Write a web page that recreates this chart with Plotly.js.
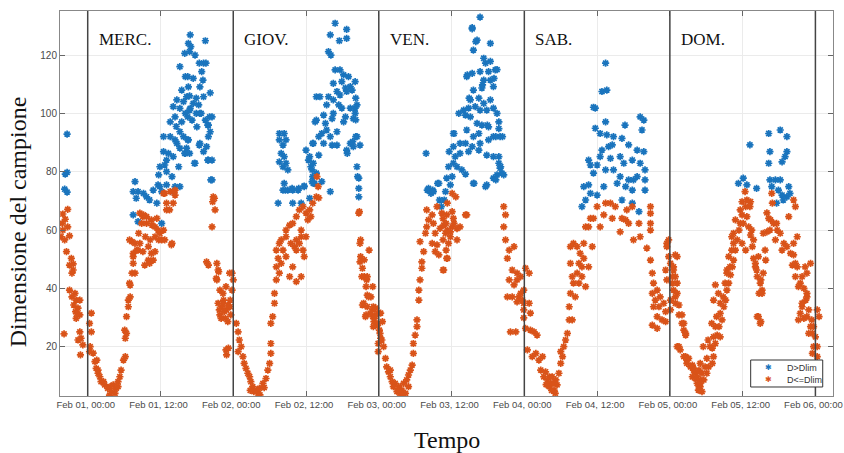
<!DOCTYPE html>
<html><head><meta charset="utf-8">
<script src="https://cdn.plot.ly/plotly-3.0.1.min.js"></script>
<style>html,body{margin:0;padding:0;background:#fff}#chart{width:844px;height:453px}</style>
</head><body><div id="chart"></div>
<script>
// hours relative to Feb 01 00:00, value
const bluePre = [[-3.4,92.9],[-3.4,79.8],[-3.7,79.2],[-3.8,74],[-3.4,73]];
const orangePre = [[-3.3,67.1],[-4.1,65.5],[-3.7,63.7],[-4.2,62.3],[-3.3,61.1],[-4.1,60],[-4.4,57.7],[-3.0,58],[-3.8,56.6],[-3.5,52.6],[-2.7,50.3],[-2.4,48.4],[-3.0,48],[-2.4,46.3],[-2.6,45.2],[-3.0,39.4],[-2.1,38.3],[-2.6,37.1],[-1.9,36],[-2.3,34.3],[-1.6,33.2],[-2.0,32],[-1.3,30.9],[-1.9,29.7],[-3.9,24.4],[-1.3,25.1],[-1.1,22.9],[-0.8,20.6],[-1.2,17.2],[-1.6,22.3],[-1.3,36],[-1.8,31.4]];

const blueWed = [[16.9,126.9],[19.4,124.9],[17.0,122.9],[16.8,121.2],[17.7,120],[15.2,116],[18.4,117.2],[19.1,117.2],[16.1,112.6],[17.4,112],[18.8,114.3],[18.5,109.1],[15.5,108],[20.2,107],[16.3,105.7],[19.1,105.7],[14.7,104.6],[15.8,104],[17.4,103.4],[18.3,102.9],[14.1,102.3],[15.2,101.7],[16.9,101.7],[16.1,100],[18.5,100],[20.5,98.8],[14.4,98.8],[13.6,97.1],[15.5,97.1],[17.2,97.7],[19.4,97.7],[19.9,96],[20.2,93.7],[18.0,95.4],[13.6,92],[12.5,92],[15.8,92],[14.7,89.7],[16.6,90.9],[18.5,89.7],[19.6,88.6],[19.9,92],[12.5,86.9],[15.2,88.1],[16.1,86.3],[19.1,86.9],[17.7,82.9],[19.9,84],[20.5,84],[14.1,85.2],[13.0,84],[11.9,81.7],[13.0,80],[15.0,81.7],[11.7,78.9],[13.9,78.3],[20.5,77.2],[7.8,76.6],[7.5,73.2],[8.3,73.2],[9.2,72.6],[9.7,71.4],[10.8,73.7],[11.9,74.9],[13.0,75.5],[14.4,74.9],[15.2,74.9],[12.2,73.2],[14.1,73.2],[7.5,65.2],[8.3,62.9],[12.2,62.3],[11.4,69.2],[8.0,70.9],[10.2,70.3],[11.6,75.5],[12.7,82.3],[13.3,86.3],[14.4,90.9],[15.2,93.7],[16.0,86.3],[16.3,88.1],[14.6,95.5],[16.0,120.6],[16.6,124],[16.6,109.1],[16.5,112.6],[19.5,117.2],[19.0,111.4],[16.8,106],[17.9,105.2],[16.8,101.1],[16.5,98.8],[20.1,98.8],[19.8,96],[16.5,90.9],[18.4,89.1],[16.8,86.3],[19.8,84],[20.3,77.2],[18.7,100],[17.9,100],[17.6,82.9]];
const orangeWed = [[0.3,28],[0.6,31.5],[0.6,25.1],[0.4,20],[0.3,18.3],[0.9,17.8],[1.2,14.9],[1.5,15.4],[1.4,12.6],[1.7,10.9],[1.7,12],[2.0,9.7],[2.2,8],[2.6,8],[2.8,6.9],[3.3,5.7],[3.7,6.3],[3.6,3.4],[3.9,4.6],[4.2,6.9],[4.5,4],[4.7,5.7],[5.0,8],[5.0,6.3],[5.3,9.7],[5.5,12],[5.9,15.4],[6.2,16.6],[6.1,25.7],[6.2,22.9],[6.4,24.6],[6.4,30.3],[6.7,36],[6.7,33.7],[6.9,41.8],[7.0,37.1],[7.0,41.1],[7.3,45.2],[7.5,48.6],[7.5,52],[7.3,56],[6.9,56.6],[7.8,45.2],[7.5,50.9],[7.8,55.4],[8.1,53.1],[8.3,53.1],[8.6,55.4],[8.4,58.9],[8.6,65.8],[8.9,62.3],[9.1,64.6],[9.2,65.2],[9.7,64.6],[9.7,62.3],[9.1,52.6],[9.4,48],[9.5,57.7],[10.0,49.7],[10.0,54.3],[10.2,48.6],[10.3,56.6],[10.5,52],[10.5,63.5],[10.6,61.7],[10.8,49.7],[11.1,57.7],[11.1,61.1],[11.1,52.6],[11.4,64],[11.6,60],[11.7,56.6],[11.9,58.9],[12.2,56.6],[12.5,60],[12.7,56.6],[13.0,69.2],[13.0,66.9],[13.5,66.9],[13.8,54.9],[13.9,55.4],[14.1,69.2],[14.4,72],[12.7,72.6],[12.5,72.6],[13.6,73.2],[14.4,73.7],
[20.7,71.4],[20.9,70.9],[20.6,69.7],[21.0,66.9],[20.5,61.1],[19.6,49.1],[19.9,48],[21.3,48.6],[21.6,45.7],[21.3,42.9],[21.8,39.4],[22.4,36],[22.1,33.7],[22.9,32.6],[21.8,30.9],[22.7,29.7],[23.5,36],[23.8,39.4],[23.8,45.2],[24.0,42.9],[23.5,33.7],[22.9,17.2],[23.2,19.5],[22.3,38.3],[23.1,34.3],[21.5,34.9],[22.3,34.9],[21.7,32.6],[22.5,32],[23.6,30.9],[23.1,28.6],[21.2,43.4],[21.5,46.3],[22.8,40.6],[23.4,45.2],[22.0,29.7],[22.8,18.9]];

const blueThu = [[31.6,93.1],[32.4,93.1],[31.6,90.9],[32.7,90.9],[32.2,89.1],[31.9,86.3],[32.4,85.2],[31.6,83.4],[32.7,82.9],[32.2,81.7],[33.0,80.6],[32.4,76],[32.2,73.7],[33.0,73.7],[33.8,73.7],[34.7,73.7],[35.7,75.1],[31.4,69.2],[33.8,69.2],[35.2,69.2],[36.6,70.9],[36.0,87.4],[36.6,85.2],[36.8,81.7],[37.1,78.3],[37.4,76],[37.7,79.5],[37.7,105.7],[37.7,97.7],[37.1,89.7],[33.7,74.3],[34.8,74.3],
[40.8,130.9],[42.7,128.8],[40.0,126.9],[41.5,124.9],[42.7,125.7],[39.7,121.2],[40.1,120],[40.8,114.9],[41.6,114.9],[42.2,113.2],[43.0,112.6],[40.5,110.3],[41.9,110.9],[44.1,110.9],[42.5,108.7],[43.3,109.2],[43.6,108],[41.1,107.5],[41.6,106.3],[42.7,107.5],[38.3,105.7],[39.7,105.7],[40.5,104.6],[39.4,102.9],[41.4,102.9],[41.9,101.8],[43.3,101.8],[44.1,101.8],[44.4,102.9],[40.5,100],[44.1,100],[38.9,99.4],[42.5,98.8],[40.3,98.2],[43.8,98.2],[37.5,97.1],[39.2,96.6],[42.2,97.1],[39.4,94.3],[38.6,93.1],[41.1,93.7],[38.1,92],[40.0,92],[44.4,92],[37.2,89.7],[38.9,89.7],[40.3,89.1],[41.1,89.1],[43.3,89.7],[43.8,88.6],[44.9,89.1],[38.1,85.7],[42.7,87.4],[36.4,84],[37.2,82.9],[37.0,80.6],[44.4,81.7],[37.0,76.6],[38.6,76.6],[37.2,76],[44.7,77.8],[40.0,73.2],[44.7,74.3],[44.7,71.4],[32.6,73.7],[35.7,74.9],[44.2,105.2],[44.2,97.8],[44.2,92],[43.7,90.3],[42.8,86.3],[44.5,78.3]];
const orangeThu = [[24.5,28],[24.8,25.1],[25.0,22.3],[25.3,20],[24.8,18.3],[25.6,16.6],[25.8,14.3],[26.1,12.6],[26.4,10.9],[26.7,9.7],[26.9,8],[27.2,6.3],[27.8,5.1],[28.1,4],[28.3,5.7],[28.9,7.4],[29.4,9.1],[29.7,12],[30.0,14.3],[30.2,17.7],[30.2,21.1],[30.2,28],[30.5,30.3],[30.8,34.9],[30.8,38.3],[31.1,42.9],[31.1,47.4],[31.4,50.3],[31.1,53.1],[31.6,55.4],[31.9,56.6],[32.7,57.7],[32.7,60],[33.3,61.7],[33.8,62.3],[33.5,55.4],[34.1,54.3],[34.4,56.6],[34.4,53.1],[34.9,55.4],[35.2,57.7],[35.5,53.1],[35.7,50.9],[33.8,47.4],[33.3,44],[34.4,42.3],[35.2,44],[31.6,45.2],[31.9,48.6],[32.2,53.1],[32.7,50.9],[34.4,64.6],[34.9,66.9],[35.5,68],[36.0,65.8],[36.6,66.9],[36.8,64.6],[37.1,69.2],[37.7,71.4],[38.0,74.9],[36.3,63.5],[36.0,57.7],[35.2,60],[38.1,71],[37.8,78.3],[27.4,4.6],[28.4,3.5],[29.1,6],[26.8,5],
[44.8,66.3],[45.0,56.6],[46.4,53.1],[45.0,50.9],[45.6,49.8],[45.3,46.9],[45.6,44],[46.1,44],[45.9,40.6],[47.0,40.6],[46.1,37.7],[46.7,37.1],[45.3,34.3],[46.1,33.7],[47.0,32.6],[47.5,33.2],[45.9,30.9],[47.0,30.3],[47.8,31.5],[47.2,28.6],[47.8,27.4],[48.3,31.5],[48.6,28.6],[48.1,25.7],[48.3,22.9],[44.9,55.4],[44.9,49.1],[45.2,44],[46.0,42.9],[46.3,37.1],[45.5,34.9],[45.8,30.3],[47.1,33.7],[46.6,31.4],[47.4,30.3],[47.7,28],[47.1,26.9],[47.9,21.1],[47.9,18.3],[44.7,65.8]];

const blueFri = [[55.8,86.3],[56.0,73.7],[56.9,73.7],[56.6,72.6],[57.7,76],[58.0,70.3],[58.3,68],[58.8,70.3],[56.2,74.3],[57.0,73.2],[57.9,76],[59.2,77.8],[60.1,78.3],[59.5,81.7],[60.3,82.9],[60.9,81.7],[61.7,80.6],[62.3,79.2],[60.6,85.2],[61.4,86.3],[62.8,86.9],[60.3,88.6],[61.4,89.7],[62.3,89.7],[63.4,88.6],[60.3,93.1],[62.5,94.3],[63.6,92],[64.5,93.1],[64.7,89.7],[66.1,90.9],[66.9,92],[67.8,94.8],[68.0,92],[61.2,100],[62.3,99.4],[62.8,101.8],[63.9,102.3],[64.7,101.1],[65.8,101.1],[66.9,101.8],[67.5,100],[63.1,104.6],[64.5,105.2],[66.4,104.6],[65.3,103.4],[64.2,96.6],[65.0,96],[66.1,95.4],[63.1,98.8],[62.0,101.1],[62.5,112.6],[63.4,113.7],[64.7,114.3],[66.1,114.3],[67.2,114.9],[65.3,111.4],[66.4,111.4],[65.0,108.7],[66.9,109.2],[63.6,108],[65.3,118.9],[66.4,117.8],[65.6,117.2],[64.2,125.1],[66.4,124],[63.6,121.7],[63.4,129.4],[64.7,133],[66.9,85.2],[67.8,82.9],[68.0,81.2],[68.3,79.5],[67.5,78.9],[63.6,76],[65.8,75.5],[64.5,87.4],[65.8,85.7],[66.9,77.8],[67.5,115],[67.0,112],[65.1,109.8],[62.9,105.2],[65.9,96],[67.8,97.1],[67.3,92],[68.4,92],[60.4,93.1],[59.6,86.9],[67.8,85.2],[68.1,81.7],[68.6,78.9],[67.3,77.2],[63.7,76],[65.6,74.9],[59.0,73.2],[59.8,75.5],[62.6,113.2],[63.4,129],[64.0,124.6]];
const orangeFri = [[48.2,24.6],[48.5,22.3],[48.8,20],[49.1,16],[49.3,13.1],[49.6,11.4],[49.9,9.7],[50.2,8],[50.7,7.4],[51.3,6.3],[51.8,5.1],[52.4,4],[52.1,7.4],[52.6,8.6],[52.9,10.3],[53.2,12],[53.5,13.7],[53.7,17.7],[53.7,21.1],[54.0,24],[54.3,26.9],[54.3,29.2],[54.6,36],[54.6,39.4],[54.8,42.9],[55.1,46.9],[55.1,49.1],[54.8,56],[55.4,52.6],[55.7,58.9],[55.9,61.1],[56.2,63.5],[55.9,66.9],[56.8,65.2],[57.0,62.3],[57.3,58.9],[57.6,54.9],[57.3,52.6],[57.9,51.5],[58.1,60.6],[58.7,61.7],[59.0,58.9],[58.7,46.3],[59.2,50.3],[59.5,55.4],[59.8,57.7],[60.1,61.1],[60.3,64],[61.4,61.1],[62.5,65.2],[59.2,65.2],[58.4,65.8],[57.6,68],[60.1,66.3],[56.8,55.4],[51.0,4.6],[51.5,4],[50.4,6.3],[52.9,6.3],[49.9,12],[60.1,72.6],[60.7,71.4],[59.3,69.2],[58.6,63.9],[59.1,62.3],[60.4,62.3],[59.3,60],[59.8,59.4],[60.9,60.5],[58.6,56.6],[60.9,56.6],[59.1,53.1],[59.3,50.3],[58.6,46.3],[62.3,65.2],[51.2,5],[51.9,3.5],
[68.6,68],[68.9,65.2],[68.6,61.1],[68.9,56.6],[69.5,53.1],[70.3,54.3],[69.2,50.3],[70.0,46.3],[70.8,45.2],[69.5,42.9],[70.8,42.9],[71.4,44],[70.3,41.2],[72.2,46.9],[72.8,45.2],[69.2,37.1],[70.0,37.1],[71.1,37.1],[71.9,34.9],[70.8,35.4],[71.4,38.3],[69.7,25.1],[70.6,25.1]];

const blueSat = [[85.4,117.2],[84.8,107.5],[85.6,108],[83.7,101.8],[83.7,94.9],[85.4,97.1],[84.5,93.1],[85.6,92.6],[86.7,92],[88.6,96],[91.1,98.8],[91.7,97.7],[91.4,94.3],[88.1,91.4],[89.2,89.2],[90.6,87.4],[91.7,86.9],[84.8,87.4],[85.9,88.6],[86.5,89.2],[84.5,85.2],[82.6,84],[82.9,82.3],[84.0,82.3],[86.2,84.6],[87.8,85.2],[88.4,82.9],[89.8,84],[91.1,82.9],[91.9,80.6],[83.4,79.5],[85.4,80.6],[86.7,80.6],[87.8,78.3],[89.2,77.2],[90.0,77.2],[90.6,78.3],[91.9,77.2],[81.8,74.9],[82.6,75.5],[85.1,74.9],[87.3,76],[88.7,74.9],[89.8,73.7],[91.9,73.7],[82.1,70.3],[84.0,72],[88.1,70.3],[89.8,69.2],[90.9,66.3],[81.5,68],[82.9,72.6],[83.4,102.1]];
const orangeSat = [[71.9,39.4],[71.7,36],[71.9,32.6],[71.9,29.9],[72.8,34.9],[73.0,31.5],[72.2,26.3],[73.0,25.7],[73.6,25.1],[74.1,24],[72.5,18.9],[73.3,16.6],[73.9,17.7],[74.4,15.4],[75.0,16.6],[74.7,12],[75.2,9.7],[75.8,8.6],[76.1,9.7],[76.3,7.4],[76.6,9.7],[77.2,8.6],[77.4,6.9],[76.9,5.1],[77.7,10.9],[78.0,14.3],[78.3,16.6],[78.0,18.3],[78.5,20],[78.8,22.3],[79.1,24.6],[79.4,29.2],[79.4,33.7],[79.6,38.3],[79.9,44],[79.6,48.6],[79.6,54.3],[75.5,11.4],[76.1,6.3],[76.5,5],[77.1,4],[76.8,7.5],[75.6,7],
[80.1,55.4],[80.7,54.3],[81.2,52],[81.8,55.4],[81.8,50.3],[81.0,48.6],[81.5,47.4],[80.7,45.2],[81.5,44],[80.1,41.8],[81.0,41.8],[80.4,37.1],[79.9,29.2],[82.1,40.6],[82.6,47.4],[83.2,54.3],[82.1,61.1],[82.6,61.1],[82.9,64],[83.4,64],[84.0,68],[84.5,61.1],[85.1,65.2],[85.4,69.2],[86.2,69.2],[86.5,64],[87.0,68],[87.8,59.4],[88.1,64],[88.7,63.5],[88.9,66.9],[89.2,62.3],[89.8,68],[90.0,56.6],[90.9,62.3],[91.1,57.7],[92.2,53.8],[92.8,68],[92.8,65.7],[92.8,62.3],[92.8,60],[92.8,49.7],[93.1,45.2],[93.3,41.8],[93.1,38.3],[93.9,39.4],[93.6,36],[94.4,37.1],[93.3,33.7],[94.2,33.7],[95.0,34.9],[93.9,30.3],[94.7,29.2],[93.1,27.4],[93.9,26.3],[95.3,28.6],[95.5,42.9],[95.3,46.3],[95.5,55.4],[95.8,56.6]];

const blueSun = [[109.2,89.2],[112.3,93.1],[114.2,94.3],[115.3,92],[112.5,86.9],[115.3,86.9],[115.0,85.2],[112.3,82.9],[114.5,83.4],[107.3,76],[108.1,77.8],[108.7,75.5],[110.3,74.3],[112.5,77.2],[113.4,77.2],[114.2,77.2],[112.8,74.9],[113.9,73.7],[115.6,74.9],[114.5,72],[115.3,71.4],[113.6,69.2],[114.7,70.3],[115.8,72.6]];
const orangeSun = [[95.8,50.9],[96.1,48.6],[96.6,46.3],[96.9,44],[97.2,50.9],[96.4,41.8],[96.6,39.4],[97.2,38.3],[96.1,36],[96.9,34.9],[95.3,32],[96.1,32.6],[97.5,30.9],[98.0,28],[98.3,25.7],[98.6,24],[97.2,20],[97.7,18.9],[98.6,16.6],[99.1,16],[98.8,14.3],[99.7,13.7],[99.9,12.6],[100.2,10.9],[100.8,12],[100.5,9.7],[101.0,8.6],[100.8,6.3],[95.5,54.3],[96.9,51.5],[96.6,47.4],[96.4,44],[97.2,41.8],[96.9,37.1],[97.5,34.3],[98.0,30.9],[98.3,28],[98.6,24.6],[97.5,20],[98.3,16.6],[98.8,15.4],[99.4,13.1],[99.9,12],[99.7,9.7],[100.2,9.1],[100.5,7.4],[101.0,6.3],[101.3,4.6],[101.6,8.6],[102.1,10.9],[102.4,13.1],[103.0,14.3],[103.2,16.6],[103.0,19.5],[103.5,21.1],[103.8,24],[104.3,23.4],[104.1,26.9],[104.6,29.2],[104.3,31.4],[104.9,33.7],[105.2,36],[105.4,39.4],[103.5,41.2],[105.7,41.8],[106.0,44.6],[105.4,46.3],[106.3,47.4],[106.5,49.7],[106.8,53.1],[107.1,56.6],[106.5,58.9],[107.4,60],[107.6,62.3],[107.9,65.2],[108.5,68],[108.7,64.6],[109.0,61.1],[109.3,58.3],[107.9,55.4],[108.5,53.1],[109.6,54.3],[109.8,50.3],[110.1,47.4],[110.4,44],[111.0,42.9],[111.2,39.4],[110.7,38.3],[110.4,30.3],[111.0,28.6],[111.8,49.7],[112.0,59.4],[112.6,63.5],[113.1,62.3],[113.7,60],[114.2,58.9],[114.8,55.4],[115.3,54.3],[115.9,52],[116.4,51.5],[116.2,48],[117.0,47.4],[116.7,44],[117.5,41.8],[118.1,40],[118.6,38.3],[118.4,36],[117.8,33.7],[117.5,31.4],[118.1,29.7],[118.6,30.3],[119.2,26.9],[119.5,24.6],[120.0,23.4],[119.7,20],[120.3,16.6],[120.0,14.3],[119.5,17.7],[118.9,24.6],[120.3,32.6],[120.6,30.3],[119.2,48.6],[118.6,45.2],[117.0,57.7],[116.4,55.4],[112.9,69.2],[112.0,65.9],[109.3,69.7],[107.9,69.7],[108.4,73.2],[108.7,70.3],[109.2,68],[107.6,66.9],[112.8,72.6],[116.4,70.3],[116.7,68],[115.6,64.6],[112.3,64],[113.6,62.3],[112.5,60],[109.5,60],[109.8,56.6],[111.4,58.9],[106.2,57.7],[108.1,62.3],[110.6,50.9],[111.7,53.1],[113.4,56.6],[114.5,53.1],[116.7,48.6],[118.3,47.4],[117.8,44],[117.2,40.6],[118.6,37.1],[118.9,32.6],[119.4,29.2],[119.7,26.9],[120.3,20],[120.3,14.3],[117.2,29.2],[117.8,34.9],[110.6,30.3],[110.9,28],[111.2,38.3],[110.9,41.8],[111.4,45.2],[110.3,46.3],[110.1,48.6],
[101.8,13.1],[101.3,10.9],[102.1,16],[102.6,20],[103.2,23.4],[103.5,26.9],[103.7,30.3],[104.3,34.9],[104.0,38.3],[104.8,37.1],[105.1,41.8],[105.4,45.2],[105.9,47.4],[105.7,50.9],[106.2,53.1],[106.5,55.4],[103.2,36],[102.9,28],[102.3,22.3],[101.5,20],[101.0,14.3],[101.0,7.4],[100.7,5.1],[106.8,63.5]];

const dayLabels = ['MERC.','GIOV.','VEN.','SAB.','DOM.'];
const dayStartHours = [0,24,48,72,96,120];
const yTicks = [20,40,60,80,100,120];
const seriesNames = ['D>Dlim','D&lt;=Dlim'];

const base = Date.UTC(2021,1,1);
const H = 3600000;
const toX = arr => arr.map(p => base + p[0]*H);
const toY = arr => arr.map(p => p[1]);
const blueAll = [].concat(bluePre, blueWed, blueThu, blueFri, blueSat, blueSun);
const orangeAll = [].concat(orangePre, orangeWed, orangeThu, orangeFri, orangeSat, orangeSun);

const BLUE = '#1a74bd', ORANGE = '#d95319';
const traces = [
  {x: toX(blueAll), y: toY(blueAll), type:'scatter', mode:'markers', name:seriesNames[0], showlegend:false,
   marker:{symbol:'asterisk-open', size:6, color:BLUE, line:{color:BLUE, width:1.7}}},
  {x: toX(orangeAll), y: toY(orangeAll), type:'scatter', mode:'markers', name:seriesNames[1], showlegend:false,
   marker:{symbol:'asterisk-open', size:6, color:ORANGE, line:{color:ORANGE, width:1.7}}}
];

const shapes = dayStartHours.map(h => ({type:'line', xref:'x', yref:'paper', x0:base+h*H, x1:base+h*H, y0:0, y1:1,
  line:{color:'#444', width:1.5}, layer:'above'}));
// compact legend box (MATLAB style)
shapes.push({type:'rect', xref:'paper', yref:'paper', x0:0.8935, x1:0.9867, y0:0.0234, y1:0.0935,
  line:{color:'#333', width:1}, fillcolor:'#fff', layer:'above'});

const annotations = dayLabels.map((t,i) => ({text:t, xref:'x', yref:'y', x:base+dayStartHours[i]*H, y:125.2,
  xanchor:'left', yanchor:'middle', xshift:9, showarrow:false,
  font:{family:'Liberation Serif, serif', size:17, color:'#111'}}));
annotations.push({text:'Tempo', xref:'paper', yref:'paper', x:0.5, y:-0.114, xanchor:'center', yanchor:'middle',
  showarrow:false, font:{family:'Liberation Serif, serif', size:24, color:'#111'}});
annotations.push({text:'Dimensione del campione', xref:'paper', yref:'paper', x:-0.054, y:0.452, xanchor:'center', yanchor:'middle',
  textangle:-90, showarrow:false, font:{family:'Liberation Serif, serif', size:24, color:'#111'}});
const legRows = [0.0735, 0.0416];
const legColors = [BLUE, ORANGE];
seriesNames.forEach((n,i) => {
  annotations.push({text:'✱', xref:'paper', yref:'paper', x:0.917, y:legRows[i], xanchor:'center', yanchor:'middle',
    showarrow:false, font:{family:'DejaVu Sans', size:8, color:legColors[i]}});
  annotations.push({text:n, xref:'paper', yref:'paper', x:0.938, y:legRows[i], xanchor:'left', yanchor:'middle',
    showarrow:false, font:{family:'Liberation Sans, Arial', size:9, color:'#333'}});
});

const layout = {
  width:844, height:453,
  margin:{l:60, r:11, t:11, b:57},
  paper_bgcolor:'#fff', plot_bgcolor:'#fff',
  showlegend:false,
  xaxis:{type:'date', range:[base-4.57*H, base+122.9*H], tick0:base, dtick:12*H, tickformat:'%b %d, %H:%M',
    ticklabeloverflow:'allow', ticklabelshift:-2,
    showgrid:true, gridcolor:'#ebebeb', gridwidth:1, zeroline:false,
    showline:true, linecolor:'#888', linewidth:1, mirror:'ticks', ticks:'inside', ticklen:5, tickcolor:'#666',
    tickfont:{family:'Liberation Sans, Arial', size:9.5, color:'#4a4a4a'}},
  yaxis:{range:[3.1,135.1], tickvals:yTicks, showgrid:true, gridcolor:'#ebebeb', gridwidth:1, zeroline:false,
    showline:true, linecolor:'#888', linewidth:1, mirror:'ticks', ticks:'inside', ticklen:5, tickcolor:'#666',
    tickfont:{family:'Liberation Sans, Arial', size:10, color:'#4a4a4a'}},
  shapes: shapes,
  annotations: annotations
};
Plotly.newPlot('chart', traces, layout, {displayModeBar:false, staticPlot:true});
</script>
</body></html>
